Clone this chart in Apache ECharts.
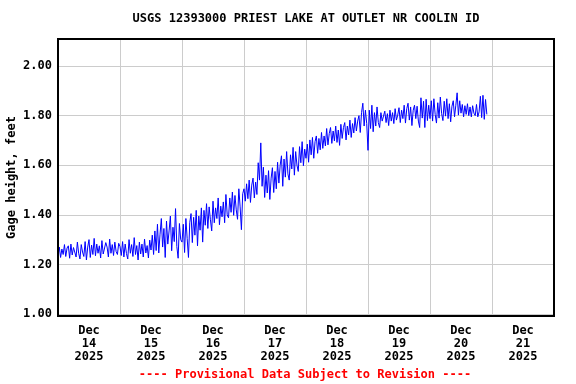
<!DOCTYPE html>
<html>
<head>
<meta charset="utf-8">
<script src="https://cdn.jsdelivr.net/npm/echarts@6/dist/echarts.min.js"></script>
<style>
html,body{margin:0;padding:0;background:#fff;}
#chart{width:576px;height:384px;}
</style>
</head>
<body>
<div id="chart"></div>
<script>
// Gage height (feet), 30-minute readings, starting Dec 14 2025 00:00
const startTime = Date.UTC(2025, 11, 14, 0, 0);
const stepMinutes = 30;
const dec14 = [1.235,1.270,1.228,1.262,1.240,1.280,1.232,1.266,1.275,1.225,1.282,1.238,1.268,1.272,1.230,1.290,1.245,1.222,1.280,1.250,1.232,1.292,1.218,1.270,1.300,1.228,1.278,1.240,1.305,1.235,1.282,1.245,1.275,1.226,1.296,1.242,1.238,1.288,1.270,1.230,1.302,1.245,1.280,1.236,1.290,1.252,1.240,1.285];
const dec15 = [1.272,1.236,1.292,1.230,1.282,1.244,1.222,1.300,1.245,1.280,1.232,1.308,1.240,1.276,1.218,1.290,1.242,1.282,1.230,1.302,1.246,1.276,1.226,1.298,1.258,1.318,1.240,1.335,1.256,1.362,1.246,1.322,1.385,1.270,1.345,1.228,1.375,1.282,1.335,1.395,1.255,1.350,1.292,1.425,1.272,1.225,1.365,1.300];
const dec16 = [1.290,1.362,1.248,1.385,1.305,1.228,1.368,1.405,1.288,1.390,1.318,1.418,1.275,1.395,1.338,1.428,1.290,1.418,1.358,1.445,1.345,1.432,1.380,1.335,1.455,1.368,1.428,1.385,1.468,1.360,1.435,1.392,1.452,1.368,1.482,1.400,1.388,1.468,1.410,1.492,1.398,1.478,1.420,1.382,1.505,1.432,1.340,1.485];
const dec17 = [1.505,1.455,1.525,1.465,1.540,1.450,1.520,1.548,1.468,1.532,1.482,1.610,1.540,1.690,1.515,1.592,1.470,1.560,1.488,1.578,1.462,1.548,1.590,1.490,1.575,1.505,1.612,1.528,1.600,1.638,1.515,1.625,1.552,1.655,1.565,1.540,1.642,1.585,1.672,1.560,1.655,1.600,1.575,1.675,1.610,1.695,1.598,1.665];
const dec18 = [1.628,1.685,1.612,1.702,1.642,1.712,1.628,1.695,1.718,1.648,1.708,1.662,1.732,1.668,1.718,1.678,1.748,1.682,1.728,1.752,1.688,1.738,1.698,1.758,1.692,1.742,1.680,1.765,1.708,1.752,1.772,1.702,1.758,1.722,1.782,1.712,1.768,1.730,1.792,1.738,1.778,1.800,1.732,1.812,1.850,1.758,1.822,1.768];
const dec19 = [1.660,1.822,1.748,1.842,1.735,1.812,1.758,1.835,1.772,1.752,1.812,1.778,1.770,1.818,1.772,1.808,1.760,1.822,1.778,1.812,1.768,1.828,1.782,1.802,1.832,1.772,1.822,1.788,1.842,1.770,1.828,1.850,1.782,1.835,1.760,1.822,1.842,1.788,1.838,1.778,1.752,1.872,1.790,1.858,1.752,1.866,1.780,1.842];
const dec20 = [1.788,1.860,1.778,1.868,1.805,1.770,1.852,1.790,1.875,1.808,1.780,1.858,1.798,1.868,1.788,1.848,1.775,1.838,1.860,1.795,1.842,1.892,1.802,1.860,1.810,1.845,1.795,1.840,1.805,1.848,1.800,1.835,1.795,1.840,1.810,1.800,1.845,1.795,1.815,1.878,1.792,1.882,1.785,1.865,1.805];

const yTicks = [1.00, 1.20, 1.40, 1.60, 1.80, 2.00];
const dayLabels = ['Dec\n14\n2025','Dec\n15\n2025','Dec\n16\n2025','Dec\n17\n2025','Dec\n18\n2025','Dec\n19\n2025','Dec\n20\n2025','Dec\n21\n2025'];
const titleText = 'USGS 12393000 PRIEST LAKE AT OUTLET NR COOLIN ID';
const footerText = '---- Provisional Data Subject to Revision ----';
const yName = 'Gage height, feet';

const DAY = 86400000;
const values = [].concat(dec14, dec15, dec16, dec17, dec18, dec19, dec20);
const data = values.map((v, i) => [startTime + i * stepMinutes * 60000, v]);
const dayStarts = [];
for (let d = 0; d <= 8; d++) dayStarts.push(startTime + d * DAY);
const dayMids = dayLabels.map((_, d) => startTime + d * DAY + DAY / 2);

const FONT = 'DejaVu Sans Mono';
const chart = echarts.init(document.getElementById('chart'), null, {renderer: 'canvas'});
chart.setOption({
  animation: false,
  backgroundColor: '#fff',
  grid: {left: 58, right: 22, top: 39, bottom: 68, show: true, borderColor: '#000', borderWidth: 2, backgroundColor: 'transparent', z: 5, outerBoundsMode: 'none', containLabel: false},
  graphic: [
    {type: 'text', x: 306, y: 19, style: {text: titleText, font: 'bold 12px "' + FONT + '"', fill: '#000', textAlign: 'center', textVerticalAlign: 'middle'}},
    {type: 'text', x: 305, y: 375, style: {text: footerText, font: 'bold 12px "' + FONT + '"', fill: '#ff0000', textAlign: 'center', textVerticalAlign: 'middle'}}
  ],
  xAxis: {
    type: 'value',
    min: startTime,
    max: startTime + 8 * DAY,
    axisLine: {show: false},
    axisTick: {show: false, customValues: dayStarts},
    splitLine: {show: true, lineStyle: {color: '#cccccc', width: 1}},
    axisLabel: {
      customValues: dayMids,
      formatter: function (val) { return dayLabels[Math.round((val - startTime - DAY / 2) / DAY)] || ''; },
      fontFamily: FONT, fontWeight: 'bold', fontSize: 12, color: '#000', lineHeight: 13, margin: 8,
      hideOverlap: false
    }
  },
  yAxis: {
    type: 'value',
    min: 0.992,
    max: 2.109,
    name: yName,
    nameLocation: 'middle',
    nameRotate: 90,
    nameGap: 40,
    nameMoveOverlap: false,
    nameTextStyle: {fontFamily: FONT, fontWeight: 'bold', fontSize: 12, color: '#000'},
    axisLine: {show: false},
    axisTick: {show: false, customValues: yTicks},
    splitLine: {show: true, lineStyle: {color: '#cccccc', width: 1}},
    axisLabel: {
      customValues: yTicks,
      formatter: function (v) { return v.toFixed(2); },
      fontFamily: FONT, fontWeight: 'bold', fontSize: 12, color: '#000', margin: 6
    }
  },
  series: [{
    type: 'line',
    data: data,
    showSymbol: false,
    symbol: 'none',
    lineStyle: {color: '#0000ff', width: 1},
    z: 3
  }]
});
</script>
</body>
</html>
